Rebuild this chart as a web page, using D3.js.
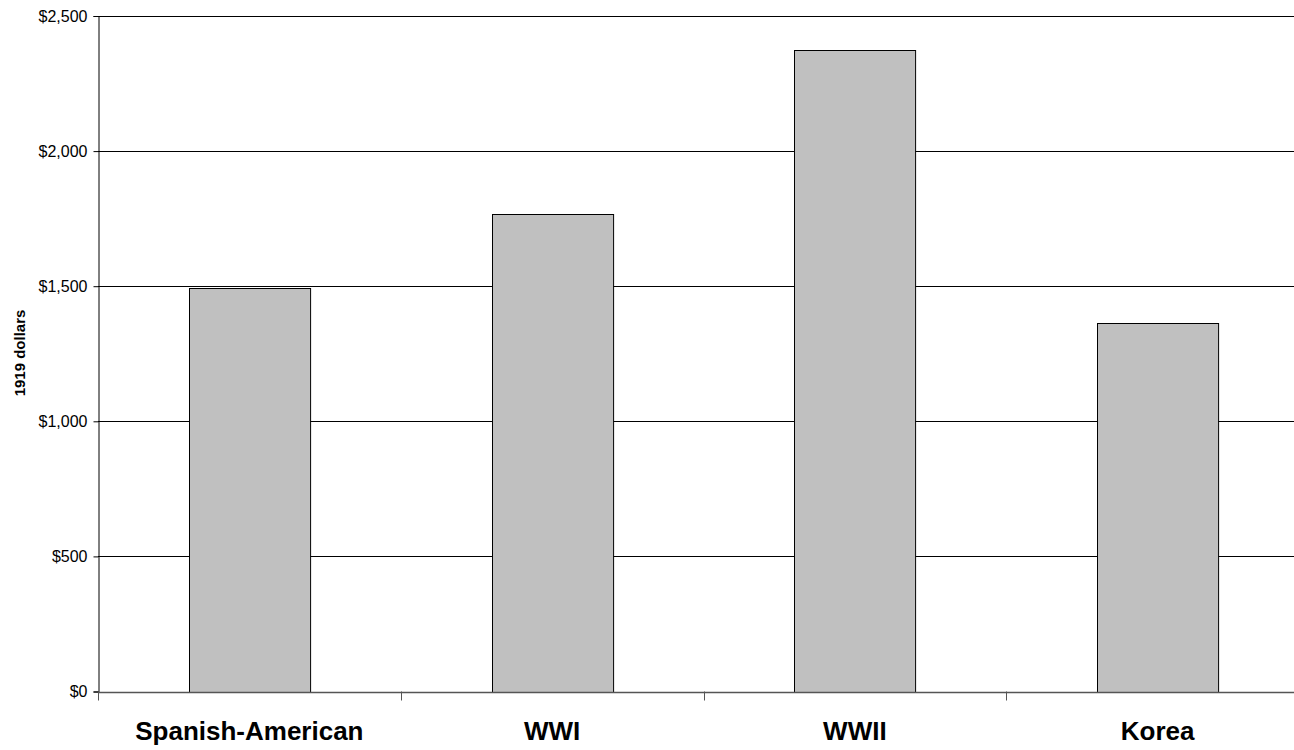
<!DOCTYPE html>
<html>
<head>
<meta charset="utf-8">
<script src="https://cdn.jsdelivr.net/npm/d3@7"></script>
<style>
  body { margin: 0; background: #fff; }
  text { font-family: "Liberation Sans", Arial, sans-serif; }
</style>
</head>
<body>
<svg width="1294" height="750"></svg>
<script>
// cost per soldier, by war
const wars = ["Spanish-American", "WWI", "WWII", "Korea"];
const costs = [1493, 1766, 2376, 1363];
const yTicks = [0, 500, 1000, 1500, 2000, 2500];

const data = wars.map((w, i) => ({ war: w, cost: costs[i] }));

const render = (data) => {
  const svg = d3.select("svg");

  // plot area runs past the right edge of the window, like the original
  const margin = { top: 16, left: 98 };
  const plotRight = 1309;
  const plotBottom = 691.5;

  const xScale = d3.scaleBand()
    .domain(data.map(d => d.war))
    .range([margin.left, plotRight])
    .paddingInner(0.6)
    .paddingOuter(0.3);

  const yScale = d3.scaleLinear()
    .domain([0, 2500])
    .range([plotBottom, margin.top]);

  // gridlines
  svg.append("g")
    .selectAll("line")
    .data(yTicks.filter(t => t > 0))
    .enter()
    .append("line")
    .attr("x1", margin.left)
    .attr("x2", plotRight)
    .attr("y1", d => Math.round(yScale(d)) + 0.5)
    .attr("y2", d => Math.round(yScale(d)) + 0.5)
    .attr("stroke", "#000")
    .attr("stroke-width", 1);

  // bars
  svg.append("g")
    .selectAll("rect")
    .data(data)
    .enter()
    .append("rect")
    .attr("x", d => Math.round(xScale(d.war)) + 0.5)
    .attr("y", d => Math.round(yScale(d.cost)) + 0.5)
    .attr("width", xScale.bandwidth())
    .attr("height", d => Math.round(plotBottom) - Math.round(yScale(d.cost)))
    .attr("fill", "#c0c0c0")
    .attr("stroke", "#000")
    .attr("stroke-width", 1);

  // y axis
  const yAxis = d3.axisLeft(yScale)
    .tickValues(yTicks)
    .tickSize(5)
    .tickPadding(6)
    .tickFormat(d => "$" + d3.format(",")(d));

  const yAxisG = svg.append("g")
    .attr("transform", `translate(${margin.left + 0.5}, 0)`)
    .call(yAxis);
  yAxisG.select(".domain").attr("stroke", "#000");
  yAxisG.selectAll(".tick text")
    .attr("font-size", 16)
    .attr("fill", "#000")
    .attr("font-family", "Liberation Sans, Arial, sans-serif");

  // x axis, ticks between the categories
  const step = xScale.step();
  const sepTicks = d3.range(0, wars.length + 1).map(i => margin.left + i * step);

  svg.append("line")
    .attr("x1", margin.left)
    .attr("x2", plotRight)
    .attr("y1", Math.round(plotBottom) + 0.5)
    .attr("y2", Math.round(plotBottom) + 0.5)
    .attr("stroke", "#555")
    .attr("stroke-width", 1.5);

  svg.append("g")
    .selectAll("line")
    .data(sepTicks)
    .enter()
    .append("line")
    .attr("x1", d => Math.round(d) + 0.5)
    .attr("x2", d => Math.round(d) + 0.5)
    .attr("y1", plotBottom)
    .attr("y2", plotBottom + 9)
    .attr("stroke", "#555");

  svg.append("g")
    .selectAll("text")
    .data(data)
    .enter()
    .append("text")
    .attr("x", d => xScale(d.war) + xScale.bandwidth() / 2)
    .attr("y", 740)
    .attr("text-anchor", "middle")
    .attr("font-size", 26)
    .attr("font-weight", "bold")
    .text(d => d.war);

  // axis title
  svg.append("text")
    .attr("transform", "translate(25, 353) rotate(-90)")
    .attr("text-anchor", "middle")
    .attr("font-size", 15)
    .attr("font-weight", "bold")
    .text("1919 dollars");
};

render(data);
</script>
</body>
</html>
